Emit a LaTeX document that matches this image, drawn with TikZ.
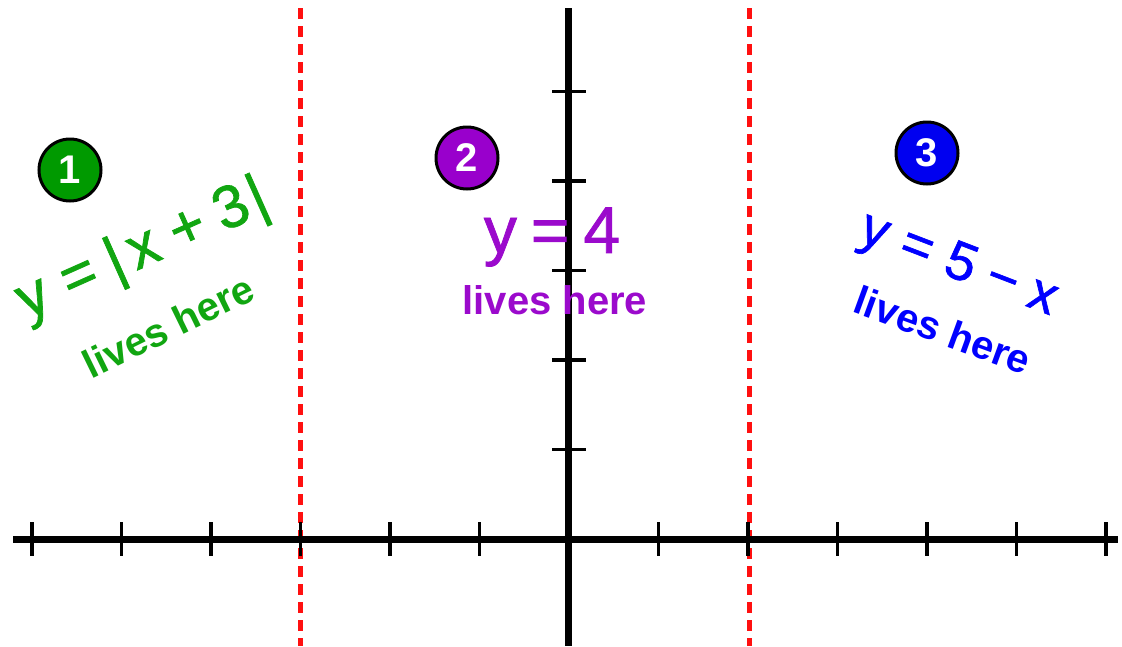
\documentclass[tikz,border=0pt]{standalone}
\usepackage{fontspec}
\setmainfont{Liberation Sans}
\newfontfamily\eqfont[FakeBold=1.2]{Liberation Sans}
\definecolor{grtext}{HTML}{11A611}
\definecolor{grfill}{HTML}{009A00}
\definecolor{putext}{HTML}{9B0ACC}
\definecolor{pufill}{HTML}{9900CC}
\definecolor{bltext}{HTML}{0000FF}
\definecolor{blfill}{HTML}{0000F0}
\definecolor{bound}{HTML}{FF1010}
\tikzset{
  axisline/.style={line width=7pt, black},
  tickline/.style={line width=3.5pt, black},
  boundline/.style={bound, line width=5pt, dash pattern=on 11pt off 7pt},
  numdisc/.style={circle, draw=black, line width=3pt, minimum size=62pt, inner sep=0pt,
    text=white, font=\fontsize{40}{40}\selectfont\bfseries},
  eqtext/.style={inner sep=0pt},
  livestext/.style={inner sep=0pt, font=\fontsize{40}{40}\selectfont\bfseries},
}
\begin{document}
\begin{tikzpicture}[x=1pt,y=-1pt]
\useasboundingbox (0,0) rectangle (1122,646);
% boundaries
\coordinate (b1t) at (300,8);  \coordinate (b1b) at (300,646);
\coordinate (b2t) at (749,8);  \coordinate (b2b) at (749,646);
\draw[boundline] (b1t) -- (b1b);
\draw[boundline] (b2t) -- (b2b);
% axes
\coordinate (xl) at (13,539);  \coordinate (xr) at (1118,539);
\coordinate (yt) at (568,8);   \coordinate (yb) at (568,646);
\draw[axisline] (xl) -- (xr);
\draw[axisline] (yt) -- (yb);
\foreach \i in {0,...,12} {
  \draw[tickline] ({32+89.5*\i},522) -- ({32+89.5*\i},556);
}
\foreach \k in {1,...,5} {
  \draw[tickline] (552,{539-89.5*\k}) -- (586,{539-89.5*\k});
}
% region 1
\node[numdisc, fill=grfill] (n1) at (70,170) {1};
\node[eqtext, text=grtext, rotate=24, font=\fontsize{60}{60}\eqfont] (e1) at (143,251)
  {y\hspace{18pt}=\hspace{14pt}|\hspace{8pt}x\hspace{16pt}+\hspace{14pt}3\hspace{4pt}|};
\node[livestext, text=grtext, rotate=26] (l1) at (168,326) {lives here};
% region 2
\node[numdisc, fill=pufill] (n2) at (467,158) {2};
\node[eqtext, text=putext, font=\fontsize{66}{66}\eqfont] (e2) at (552,237)
  {y\hspace{14pt}=\hspace{14pt}4};
\node[livestext, text=putext] (l2) at (555,300) {lives here};
% region 3
\node[numdisc, fill=blfill] (n3) at (927,153) {3};
\node[eqtext, text=bltext, rotate=-21, font=\fontsize{54}{54}\eqfont] (e3) at (958,266)
  {y\hspace{16pt}=\hspace{16pt}5\hspace{14pt}−\hspace{14pt}x};
\node[livestext, text=bltext, rotate=-20] (l3) at (943,330) {lives here};
\end{tikzpicture}
\end{document}
